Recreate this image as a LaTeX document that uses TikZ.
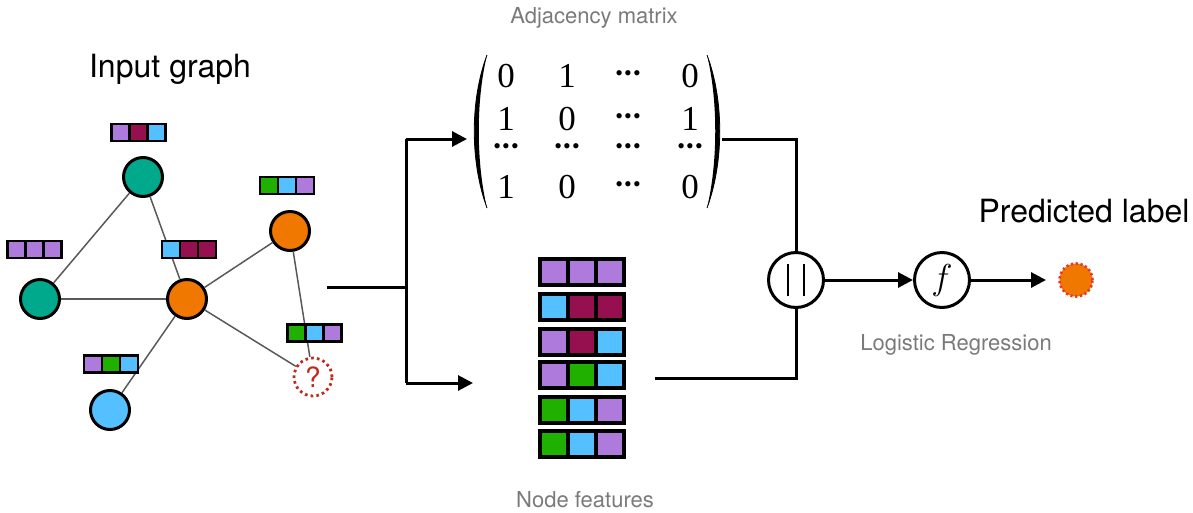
\RequirePackage{fix-cm}
\documentclass[tikz,border=0pt]{standalone}
\usepackage{fontspec}
\setmainfont{TeX Gyre Heros}
\newfontfamily\matfont{Liberation Serif}
\usetikzlibrary{arrows.meta}
\definecolor{teal}{HTML}{00A98C}
\definecolor{gorange}{HTML}{F07800}
\definecolor{lblue}{HTML}{55C0FF}
\definecolor{fpurple}{HTML}{AE7BDC}
\definecolor{fmaroon}{HTML}{961050}
\definecolor{fgreen}{HTML}{1FB000}
\definecolor{qred}{HTML}{BF2A1E}
\definecolor{pred}{HTML}{E8362A}
\definecolor{lgray}{HTML}{7A7A7A}
\newcommand{\featrow}[8]{%
  \node[#8, fill=#5] (#1-1) at ({#2-#4},#3) {};
  \node[#8, fill=#6] (#1-2) at (#2,#3) {};
  \node[#8, fill=#7] (#1-3) at ({#2+#4},#3) {};
}
\newcommand{\mydots}{•\hspace{1.2pt}•\hspace{1.2pt}•}
\tikzset{
  gnode/.style={circle, draw=black, line width=3pt, minimum size=39pt, inner sep=0pt},
  gedge/.style={draw=black!65, line width=1.5pt},
  smallsq/.style={rectangle, draw=black, line width=2.5pt, minimum width=18pt, minimum height=17pt, inner sep=0pt},
  bigsq/.style={rectangle, draw=black, line width=4pt, minimum width=28pt, minimum height=26pt, inner sep=0pt},
  conn/.style={line width=3pt, draw=black},
  arr/.style={conn, -{Triangle[length=15pt, width=15pt]}},
  opnode/.style={circle, draw=black, line width=3pt, minimum size=55pt, inner sep=0pt},
  bigtitle/.style={font=\fontsize{32}{36}\selectfont, anchor=base},
  graylabel/.style={font=\fontsize{22}{26}\selectfont, text=lgray, anchor=base},
  ment/.style={font=\matfont\fontsize{35}{40}\selectfont, anchor=base, inner sep=0pt},
  mdots/.style={font=\matfont\fontsize{22}{24}\selectfont, anchor=center, inner sep=0pt},
}
\begin{document}
\begin{tikzpicture}[x=1pt,y=-1pt]
\useasboundingbox (0,0) rectangle (1193,512);

% titles
\node[bigtitle] (tin) at (170,77) {Input graph};
\node[bigtitle] (tpred) at (1084,222) {Predicted label};
\node[graylabel] (tadj) at (594,23) {Adjacency matrix};
\node[graylabel] (tlog) at (956,350) {Logistic Regression};
\node[graylabel] (tnf) at (585,507) {Node features};

% graph nodes
\node[gnode, fill=teal] (n1) at (143,177) {};
\node[gnode, fill=teal] (n2) at (40,299) {};
\node[gnode, fill=gorange] (n3) at (187,299) {};
\node[gnode, fill=gorange] (n4) at (290,231) {};
\node[gnode, fill=lblue] (n5) at (110,410) {};
\node[circle, draw=qred, line width=2.8pt, dash pattern=on 2.6pt off 3.2pt, minimum size=38pt, inner sep=0pt, text=qred, font=\fontsize{28}{30}\selectfont] (nq) at (313,377) {?};

% graph edges
\draw[gedge] (n1) -- (n2);
\draw[gedge] (n1) -- (n3);
\draw[gedge] (n2) -- (n3);
\draw[gedge] (n3) -- (n4);
\draw[gedge] (n3) -- (n5);
\draw[gedge] (n3) -- (nq);
\draw[gedge] (n4) -- (nq);

% feature boxes of graph
\featrow{f1}{138.5}{132.5}{18}{fpurple}{fmaroon}{lblue}{smallsq}
\featrow{f2}{34.5}{249.5}{18}{fpurple}{fpurple}{fpurple}{smallsq}
\featrow{f3}{189}{249.5}{18}{lblue}{fmaroon}{fmaroon}{smallsq}
\featrow{f4}{287}{185.5}{18}{fgreen}{lblue}{fpurple}{smallsq}
\featrow{f5}{314.5}{333}{18}{fgreen}{lblue}{fpurple}{smallsq}
\featrow{f6}{111}{364}{18}{fpurple}{fgreen}{lblue}{smallsq}

% node features
\featrow{r1}{582}{272}{28}{fpurple}{fpurple}{fpurple}{bigsq}
\featrow{r2}{582}{307}{28}{lblue}{fmaroon}{fmaroon}{bigsq}
\featrow{r3}{582}{342}{28}{fpurple}{fmaroon}{lblue}{bigsq}
\featrow{r4}{582}{375}{28}{fpurple}{fgreen}{lblue}{bigsq}
\featrow{r5}{582}{410}{28}{fgreen}{lblue}{fpurple}{bigsq}
\featrow{r6}{582}{444}{28}{fgreen}{lblue}{fpurple}{bigsq}

% adjacency matrix
\node[ment] (m11) at (506,87) {0};
\node[ment] (m12) at (567,87) {1};
\node[mdots] (m13) at (628,76) {\mydots};
\node[ment] (m14) at (690,87) {0};
\node[ment] (m21) at (506,130) {1};
\node[ment] (m22) at (567,130) {0};
\node[mdots] (m23) at (628,119) {\mydots};
\node[ment] (m24) at (690,130) {1};
\node[mdots] (m31) at (506,149) {\mydots};
\node[mdots] (m32) at (567,149) {\mydots};
\node[mdots] (m33) at (628,149) {\mydots};
\node[mdots] (m34) at (690,149) {\mydots};
\node[ment] (m41) at (506,198) {1};
\node[ment] (m42) at (567,198) {0};
\node[mdots] (m43) at (628,187) {\mydots};
\node[ment] (m44) at (690,198) {0};
\fill (487,55) .. controls (470,100) and (470,162) .. (487,208)
      .. controls (476,162) and (476,100) .. (487,55) -- cycle;
\draw[line width=0.8pt] (487,55) .. controls (470,100) and (470,162) .. (487,208);
\fill (707,55) .. controls (724,100) and (724,162) .. (707,208)
      .. controls (718,162) and (718,100) .. (707,55) -- cycle;
\draw[line width=0.8pt] (707,55) .. controls (724,100) and (724,162) .. (707,208);
\coordinate (matL) at (467,139);
\coordinate (matR) at (722,139);

% connectors
\coordinate (gout) at (327,287);
\coordinate (split) at (406,287);
\coordinate (nfL) at (473,383);
\coordinate (nfR) at (655,378);
\node[opnode] (cat) at (796,280) {};
\draw[line width=2pt] ([xshift=-8pt,yshift=-16pt]cat.center) -- ([xshift=-8pt,yshift=16pt]cat.center);
\draw[line width=2pt] ([xshift=8pt,yshift=-16pt]cat.center) -- ([xshift=8pt,yshift=16pt]cat.center);
\node[opnode, font=\fontsize{36}{40}\selectfont] (fn) at (942,280) {$f$};
\node[circle, fill=gorange, draw=pred, line width=2.6pt, dash pattern=on 2.2pt off 2.6pt, minimum size=33pt, inner sep=0pt] (out) at (1076,280) {};
\coordinate (outtip) at (1046,280);

\draw[conn] (gout) -- (split);
\draw[arr] (split |- matL) -- (matL);
\draw[conn] (split |- matL) -- (split |- nfL);
\draw[arr] (split |- nfL) -- (nfL);
\draw[conn] (matR) -| (cat.north);
\draw[conn] (nfR) -| (cat.south);
\draw[arr] (cat.east) -- (fn.west);
\draw[arr] (fn.east) -- (outtip);
\end{tikzpicture}
\end{document}
